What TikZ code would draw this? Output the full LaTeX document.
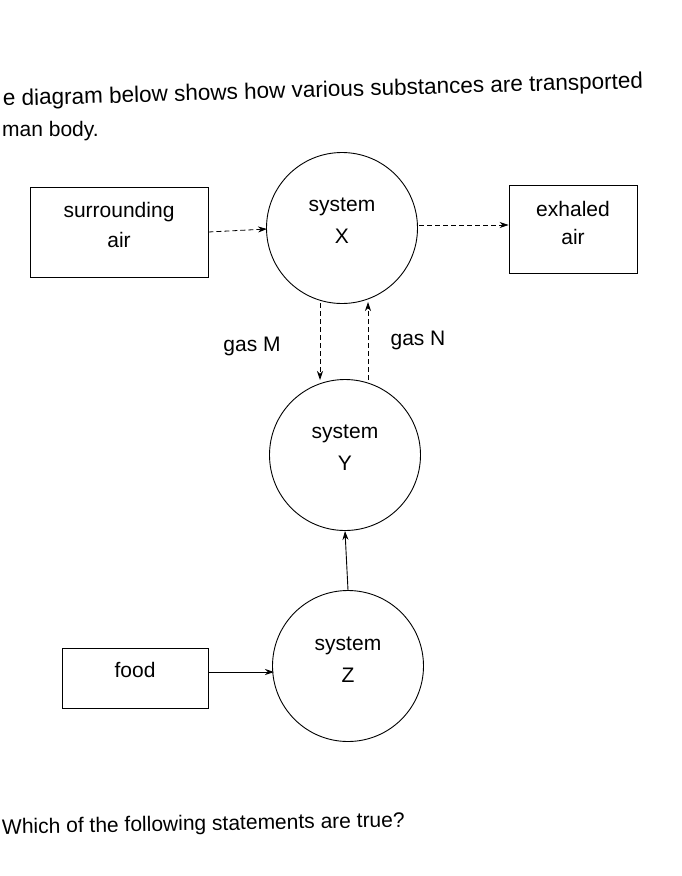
\documentclass[tikz,border=0pt]{standalone}
\usepackage{fontspec}
\setmainfont{Liberation Sans}
\usetikzlibrary{arrows.meta}
\begin{document}
\begin{tikzpicture}[x=1pt,y=-1pt,
  box/.style={draw,line width=0.9pt},
  circ/.style={draw,circle,line width=0.9pt,minimum size=151pt,inner sep=0pt},
  da/.style={line width=0.8pt,dash pattern=on 5pt off 3pt,-{Stealth[length=9pt,width=6pt]}},
  sa/.style={line width=0.9pt,-{Stealth[length=9pt,width=6pt]}},
  txt/.style={font=\fontsize{21}{24}\selectfont,inner sep=0pt}]
\useasboundingbox (0,0) rectangle (682,876);
\clip (0,0) rectangle (682,876);
\fill[white] (0,0) rectangle (682,876);
\node[txt,anchor=base west,rotate=1.6,font=\fontsize{22.5}{24}\selectfont] (t1) at (3,106) {e diagram below shows how various substances are transported};
\node[txt,anchor=base west] (t2) at (2,136) {man body.};
\node[box,minimum width=178pt,minimum height=90pt] (air) at (119,232) {};
\node[txt] (air1) at (119,212) {surrounding};
\node[txt] (air2) at (119,240) {air};
\node[circ] (X) at (342,228) {};
\node[txt] (x1) at (342,207) {system};
\node[txt] (x2) at (342,236) {X};
\node[box,minimum width=128pt,minimum height=88pt] (exh) at (573,229) {};
\node[txt] (e1) at (573,209) {exhaled};
\node[txt] (e2) at (573,237) {air};
\node[circ] (Y) at (345,455) {};
\node[txt] (y1) at (345,434) {system};
\node[txt] (y2) at (345,463) {Y};
\node[circ] (Z) at (348,666) {};
\node[txt] (z1) at (348,646) {system};
\node[txt] (z2) at (348,675) {Z};
\node[box,minimum width=146pt,minimum height=60pt] (food) at (135,678) {};
\node[txt] (f1) at (135,670) {food};
\draw[da] (air.east |- 0,232) -- (267,229);
\draw[da] (419,225) -- (exh.west |- 0,225);
\draw[da] (320,303) -- (320,380);
\draw[da] (368,380) -- (368,302);
\node[txt] (gm) at (252,346) {gas M};
\node[txt] (gn) at (418,340) {gas N};
\draw[sa] (Z.north) -- (Y.south);
\draw[sa] (food.east |- 0,672) -- (274,672);
\node[txt,anchor=base west,rotate=1] (q) at (2,834) {Which of the following statements are true?};
\end{tikzpicture}
\end{document}
